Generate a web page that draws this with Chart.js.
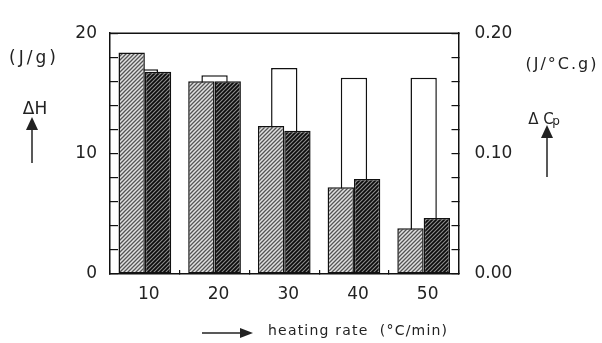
<!DOCTYPE html>
<html>
<head>
<meta charset="utf-8">
<script src="https://cdn.jsdelivr.net/npm/chart.js@4.4.1/dist/chart.umd.min.js"></script>
<style>
html,body{margin:0;padding:0;background:#fff;}
#wrap{width:602px;height:343px;position:relative;}
</style>
</head>
<body>
<div id="wrap"><canvas id="c"></canvas></div>
<script>
// ---- data ----
const categories = ['10', '20', '30', '40', '50'];
const deltaH1 = [18.4, 16.0, 12.3, 7.2, 3.8];        // light hatched, J/g
const deltaH2 = [16.8, 16.0, 11.9, 7.9, 4.65];       // dark hatched, J/g
const deltaCp = [0.170, 0.165, 0.171, 0.163, 0.163]; // open bars, J/°C.g
const leftTicks = [0, 10, 20];
const rightTicks = [0, 0.10, 0.20];

function hatch(bg, fg, lw) {
  const c = document.createElement('canvas');
  c.width = 4; c.height = 4;
  const g = c.getContext('2d');
  g.fillStyle = bg; g.fillRect(0, 0, 4, 4);
  g.strokeStyle = fg; g.lineWidth = lw;
  g.beginPath();
  g.moveTo(-1, 5); g.lineTo(5, -1);
  g.moveTo(-1, 1); g.lineTo(1, -1);
  g.moveTo(3, 5); g.lineTo(5, 3);
  g.stroke();
  return g.createPattern(c, 'repeat');
}
const lightPat = hatch('#e2e2e2', '#555', 1.3);
const darkPat = hatch('#8c8c8c', '#0a0a0a', 1.7);

const INK = '#222';
const FONT = "'DejaVu Sans', sans-serif";

const annot = {
  id: 'annot',
  afterDraw(chart) {
    const ctx = chart.ctx;
    const a = chart.chartArea;
    ctx.save();
    // top frame line
    ctx.strokeStyle = '#111'; ctx.lineWidth = 1.5;
    ctx.beginPath(); ctx.moveTo(a.left, a.top); ctx.lineTo(a.right, a.top); ctx.stroke();

    ctx.fillStyle = INK; ctx.strokeStyle = INK;
    ctx.textAlign = 'center'; ctx.textBaseline = 'middle';
    function arrowUp(x, yBottom, yTip) {
      ctx.lineWidth = 1.5;
      ctx.beginPath(); ctx.moveTo(x, yBottom); ctx.lineTo(x, yTip + 10); ctx.stroke();
      ctx.beginPath(); ctx.moveTo(x, yTip); ctx.lineTo(x - 6, yTip + 13); ctx.lineTo(x + 6, yTip + 13); ctx.closePath(); ctx.fill();
    }
    function arrowRight(xStart, xTip, y) {
      ctx.lineWidth = 1.5;
      ctx.beginPath(); ctx.moveTo(xStart, y); ctx.lineTo(xTip - 10, y); ctx.stroke();
      ctx.beginPath(); ctx.moveTo(xTip, y); ctx.lineTo(xTip - 13, y - 5); ctx.lineTo(xTip - 13, y + 5); ctx.closePath(); ctx.fill();
    }
    ctx.font = "17px " + FONT;
    ctx.letterSpacing = '3px';
    ctx.fillText('(J/g)', 34, 59);
    ctx.font = "16px " + FONT;
    ctx.letterSpacing = '2px';
    ctx.fillText('(J/°C.g)', 562, 65);
    ctx.letterSpacing = '0px';
    ctx.font = "17px " + FONT;
    ctx.fillText('ΔH', 35, 110);
    ctx.font = "15px " + FONT;
    ctx.fillText('Δ C', 541, 120);
    ctx.font = "12px " + FONT;
    ctx.fillText('p', 556, 122);
    arrowUp(32, 163, 117);
    arrowUp(547, 177, 125);
    arrowRight(202, 253, 333);
    ctx.textAlign = 'left';
    ctx.font = "14px " + FONT;
    ctx.letterSpacing = '1.2px';
    ctx.fillText('heating rate  (°C/min)', 268, 331);
    ctx.restore();
  }
};

new Chart(document.getElementById('c'), {
  type: 'bar',
  data: {
    labels: categories,
    datasets: [
      { label: 'ΔH a', data: deltaH1, xAxisID: 'x', yAxisID: 'y', backgroundColor: lightPat, grouped: true,
        borderColor: '#111', borderWidth: 1.5, borderSkipped: false, categoryPercentage: 0.756, barPercentage: 1, order: 1 },
      { label: 'ΔH b', data: deltaH2, xAxisID: 'x', yAxisID: 'y', backgroundColor: darkPat, grouped: true,
        borderColor: '#111', borderWidth: 1.5, borderSkipped: false, categoryPercentage: 0.756, barPercentage: 1, order: 1 },
      { label: 'ΔCp', data: deltaCp, xAxisID: 'x', yAxisID: 'y2', backgroundColor: '#fff', grouped: false,
        borderColor: '#111', borderWidth: 1.5, borderSkipped: false, categoryPercentage: 0.378, barPercentage: 1, order: 2 }
    ]
  },
  options: {
    responsive: true,
    maintainAspectRatio: false,
    animation: false,
    layout: { padding: { top: 23, left: 0, right: 0, bottom: 0 } },
    plugins: { legend: { display: false }, tooltip: { enabled: false } },
    scales: {
      x: {
        type: 'category', position: 'bottom', offset: true,
        grid: { offset: true, drawOnChartArea: false, drawTicks: true, tickLength: -4, color: '#111', lineWidth: 1.2 },
        border: { display: true, color: '#111', width: 1.5 },
        ticks: { font: { family: FONT, size: 17 }, color: INK, padding: 14, labelOffset: 4, maxRotation: 0 },
        afterFit(s) { s.height = 69; }
      },
      y: {
        position: 'left', min: 0, max: 20,
        grid: { drawOnChartArea: false, drawTicks: true, tickLength: -8, color: '#111', lineWidth: 1.2 },
        border: { display: true, color: '#111', width: 1.5 },
        ticks: { stepSize: 2, autoSkip: false, font: { family: FONT, size: 17 }, color: INK, padding: 21,
          callback: v => leftTicks.some(t => Math.abs(t - v) < 1e-6) ? String(v) : '' },
        afterFit(s) { s.width = 110; }
      },
      y2: {
        position: 'right', min: 0, max: 0.2,
        grid: { drawOnChartArea: false, drawTicks: true, tickLength: -7, color: '#111', lineWidth: 1.2 },
        border: { display: true, color: '#111', width: 1.5 },
        ticks: { stepSize: 0.02, autoSkip: false, font: { family: FONT, size: 17 }, color: INK, padding: 23,
          callback: v => rightTicks.some(t => Math.abs(t - v) < 1e-6) ? v.toFixed(2) : '' },
        afterFit(s) { s.width = 143.5; }
      }
    }
  },
  plugins: [annot]
});
</script>
</body>
</html>
